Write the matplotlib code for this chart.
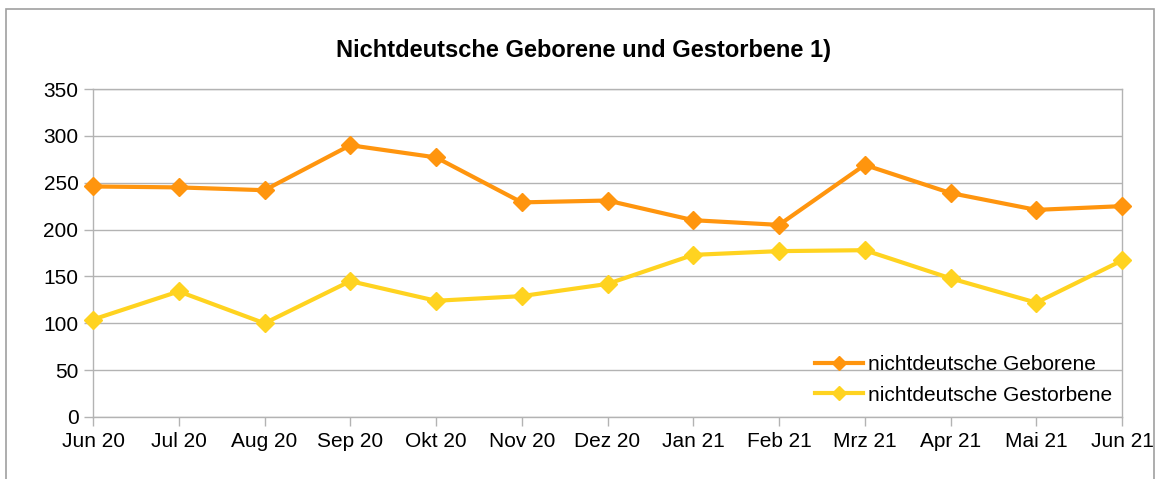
import matplotlib
matplotlib.use("Agg")
import matplotlib.pyplot as plt
from matplotlib.patches import Rectangle

months = ["Jun 20", "Jul 20", "Aug 20", "Sep 20", "Okt 20", "Nov 20", "Dez 20",
          "Jan 21", "Feb 21", "Mrz 21", "Apr 21", "Mai 21", "Jun 21"]
geborene = [246, 245, 242, 290, 277, 229, 231, 210, 205, 269, 239, 221, 225]
gestorbene = [104, 134, 100, 145, 124, 129, 142, 173, 177, 178, 148, 122, 167]
yticks = [0, 50, 100, 150, 200, 250, 300, 350]
title = "Nichtdeutsche Geborene und Gestorbene 1)"
labels = ["nichtdeutsche Geborene", "nichtdeutsche Gestorbene"]

plt.rcParams['font.family'] = ['Liberation Sans', 'DejaVu Sans']

W, H = 1155, 479
fig = plt.figure(figsize=(W / 100, H / 100), dpi=100)
ax = fig.add_axes([93 / W, 1 - 417 / H, (1122 - 93) / W, (417 - 89) / H])

x = list(range(len(months)))
ax.plot(x, geborene, color="#ff950e", lw=3, marker="D", markersize=9, label=labels[0], clip_on=False, zorder=4)
ax.plot(x, gestorbene, color="#ffd320", lw=3, marker="D", markersize=9, label=labels[1], clip_on=False, zorder=3)

ax.set_xlim(0, len(months) - 1)
ax.set_ylim(0, 350)
ax.set_xticks(x)
ax.set_xticklabels(months)
ax.set_yticks(yticks)
ax.grid(axis="y", color="#b3b3b3", lw=1)
ax.set_axisbelow(True)
for s in ax.spines.values():
    s.set_color("#b3b3b3")
    s.set_linewidth(1)
ax.tick_params(axis="both", colors="#b3b3b3", labelcolor="black", labelsize=15, length=6.5, width=1)
ax.tick_params(axis="x", pad=4)
ax.tick_params(axis="y", pad=4)

fig.text(584 / W, 1 - 51 / H, title, ha="center", va="center", fontsize=17, fontweight="bold")

leg = ax.legend(loc="center left", bbox_to_anchor=(815 / W, 1 - 380 / H), bbox_transform=fig.transFigure,
                frameon=False, fontsize=15, handlelength=2.3, handletextpad=0.25, labelspacing=0.55,
                borderpad=0, borderaxespad=0, markerscale=0.8)

fig.patches.append(Rectangle((6 / W, -0.05), (1154 - 6) / W, 1.05 - 9 / H, transform=fig.transFigure,
                             fill=False, edgecolor="#a0a0a0", lw=1.2))

fig.savefig("out.png", dpi=100)
